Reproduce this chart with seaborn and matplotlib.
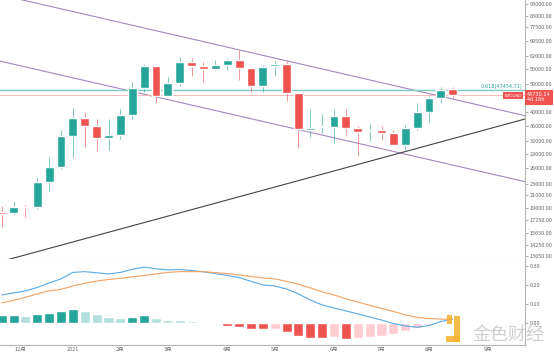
import numpy as np
import pandas as pd
import seaborn as sns
import matplotlib.pyplot as plt
from matplotlib.transforms import blended_transform_factory
from matplotlib.patches import Rectangle

# weekly BTCUSD candles, first bar = week of 2020-11-23
opens = [18400, 18300, 19200, 19100, 23200, 26100, 33200, 38400, 35900, 32800,
         33500, 39100, 48400, 57200, 45300, 50400, 59000, 57200, 56000, 58000,
         60000, 56700, 49100, 57200, 58200, 46400, 34800, 35700, 35800, 39000,
         35400, 34500, 35000, 34000, 31100, 35500, 40000, 44800, 47900]
highs = [19300, 19900, 19400, 24200, 28200, 34800, 41500, 40100, 37900, 38000,
         41000, 50500, 58500, 57500, 52700, 61600, 61000, 59000, 60000, 61200,
         65000, 57000, 57800, 59500, 59500, 46600, 41100, 39400, 41200, 41200,
         36000, 36500, 36000, 34800, 36200, 43000, 45300, 48800, 48800]
lows = [16400, 18000, 17700, 18900, 21700, 25800, 28100, 30500, 29600, 29800,
        32500, 38000, 46800, 43000, 45000, 49000, 53000, 50500, 55500, 55500,
        51300, 47000, 47000, 53200, 43700, 30400, 33000, 34000, 31500, 33400,
        28500, 32100, 32300, 31000, 29800, 34800, 37000, 43100, 44700]
closes = [18200, 19150, 19050, 23200, 26100, 33200, 38400, 35900, 32800, 33500,
          39100, 48400, 57200, 45300, 50400, 59000, 57200, 56000, 58000, 60000,
          56700, 49100, 56900, 58200, 46400, 35100, 35500, 35900, 39000, 35400,
          34300, 35000, 34000, 31100, 35500, 40000, 44800, 47700, 45730.14]

# MACD pane
macd_line = [0.146, 0.156, 0.167, 0.185, 0.209, 0.230, 0.264, 0.268, 0.262, 0.256,
             0.264, 0.280, 0.292, 0.283, 0.277, 0.279, 0.274, 0.267, 0.258, 0.248,
             0.237, 0.217, 0.198, 0.193, 0.177, 0.151, 0.119, 0.093, 0.077, 0.062,
             0.046, 0.030, 0.014, -0.004, -0.017, -0.024, -0.015, 0.006, 0.019]
signal_line = [0.104, 0.117, 0.133, 0.151, 0.167, 0.175, 0.193, 0.206, 0.219, 0.227,
               0.233, 0.241, 0.248, 0.256, 0.264, 0.268, 0.268, 0.268, 0.263, 0.258,
               0.251, 0.243, 0.235, 0.230, 0.217, 0.202, 0.183, 0.162, 0.146, 0.125,
               0.109, 0.091, 0.075, 0.059, 0.041, 0.028, 0.022, 0.019, 0.018]
hist = [0.040, 0.040, 0.035, 0.044, 0.049, 0.062, 0.072, 0.063, 0.046, 0.030,
        0.025, 0.030, 0.040, 0.023, 0.014, 0.013, 0.007, 0.002, -0.008, -0.016,
        -0.021, -0.033, -0.035, -0.033, -0.047, -0.071, -0.078, -0.080, -0.076, -0.084,
        -0.080, -0.075, -0.070, -0.058, -0.044, -0.028, -0.014, -0.007, 0.004]

# drawings: (bar index, price) pairs
upper_channel = [(1.79, 95900), (42.79, 40080)]
lower_channel = [(-0.14, 59640), (39.17, 25900)]
support_line = [(0.87, 12830), (42.79, 36780)]
fib_level = 47454.71
last_price = 45730.14

price_ticks = [93000, 85000, 77500, 69500, 62000, 56000, 50000, 40000, 36000, 32000,
               29000, 26000, 23000, 21000, 19000, 17250, 15650, 14250, 13050]
macd_ticks = [0.0, 0.1, 0.2, 0.3]
month_pos = [1.6, 6, 10, 14, 19, 23, 28, 32, 36, 41]
month_labels = ["12月", "2021", "2月", "3月", "4月", "5月", "6月", "7月", "8月", "9月"]

sns.set_style("white")
plt.rcParams['font.family'] = ['Noto Sans CJK SC', 'DejaVu Sans']

UP, DOWN = "#26a69a", "#ef5350"
AXC = "#b0b3b8"

df = pd.DataFrame({"o": opens, "h": highs, "l": lows, "c": closes})
df["i"] = np.arange(len(df))
df["col"] = np.where(df.c >= df.o, UP, DOWN)

fig = plt.figure(figsize=(5.54, 3.53), dpi=100)
ax = fig.add_axes([0, 0.2677, 0.9477, 0.7323])
ax2 = fig.add_axes([0, 0.0227, 0.9477, 0.245], sharex=ax)

# candles (wicks drawn a bit lighter, like the screenshot)
ax.vlines(df.i, df.l, df.h, color=df.col, lw=0.7, alpha=0.6, zorder=2)
ax.bar(df.i, (df.c - df.o).abs(), bottom=np.minimum(df.o, df.c), width=0.75,
       color=df.col, zorder=3)
ax.set_yscale("log")
ax.set_ylim(12830, 95950)
ax.set_xlim(-0.143, 44.09)

# trend lines, straight on the log scale
xs = np.array([-2, 46])
for (x0, p0), (x1, p1), c in [(*upper_channel, "#a488c0"), (*lower_channel, "#a488c0"),
                              (*support_line, "#444444")]:
    k = (np.log(p1) - np.log(p0)) / (x1 - x0)
    ax.plot(xs, np.exp(np.log(p0) + k * (xs - x0)), color=c, lw=0.8, zorder=1)

ax.axhline(fib_level, color="#7fcac2", lw=1.0, zorder=1)
ax.axhline(last_price, color="#f6b0b0", lw=0.6, zorder=1)

tr = blended_transform_factory(ax.transAxes, ax.transData)
ax.text(0.995, fib_level * 1.012, "0.618(47454.71)", transform=tr, ha="right", va="bottom",
        fontsize=3.6, color="#26a69a", family="DejaVu Sans")
ax.text(0.977, last_price * 0.995, "BTCUSD", transform=tr, ha="center", va="center",
        fontsize=3.2, color="white", family="DejaVu Sans",
        bbox=dict(boxstyle="square,pad=0.35", fc=DOWN, ec="none"))
ax.text(1.004, last_price * 0.985, "45730.14\n4d 16h", transform=tr, ha="left", va="center",
        fontsize=3.6, color="white", family="DejaVu Sans", linespacing=1.1, clip_on=False,
        bbox=dict(boxstyle="square,pad=0.45", fc=DOWN, ec="none"))

ax.yaxis.tick_right()
ax.set_yticks(price_ticks)
ax.set_yticklabels([f"{t:.2f}" for t in price_ticks])
ax.yaxis.set_minor_locator(plt.NullLocator())
ax.tick_params(axis="y", length=2, width=0.5, color="#888", labelsize=4, labelcolor="#666", pad=1.5)
ax.tick_params(axis="x", bottom=False, labelbottom=False)
for s in ["top", "left"]:
    ax.spines[s].set_visible(False)
for s in ["bottom", "right"]:
    ax.spines[s].set_color(AXC)
    ax.spines[s].set_linewidth(0.8)

# MACD histogram + lines
h = np.array(hist)
prev = np.r_[h[0] - 1, h[:-1]]
kind = np.where(h >= 0, np.where(h >= prev, "pos_up", "pos_dn"),
                np.where(h <= prev, "neg_dn", "neg_up"))
pal = {"pos_up": "#26a69a", "pos_dn": "#b2dfdb", "neg_dn": "#ef5350", "neg_up": "#ffcdd2"}
hdf = pd.DataFrame({"i": df.i, "v": h, "k": kind})
sns.barplot(data=hdf, x="i", y="v", hue="k", palette=pal, native_scale=True, dodge=False,
            legend=False, width=0.85, saturation=1, ax=ax2)
sns.lineplot(x=df.i, y=macd_line, color="#5aa9e6", lw=0.8, ax=ax2)
sns.lineplot(x=df.i, y=signal_line, color="#f3a263", lw=0.8, ax=ax2)

ax2.set_ylim(-0.117, 0.337)
ax2.set_xlim(-0.143, 44.09)
ax2.yaxis.tick_right()
ax2.set_yticks(macd_ticks)
ax2.set_yticklabels([f"{t:.2f}" for t in macd_ticks])
ax2.set_xticks(month_pos)
ax2.set_xticklabels(month_labels)
ax2.set_xlabel("")
ax2.set_ylabel("")
ax2.tick_params(axis="y", length=2, width=0.5, color="#888", labelsize=4, labelcolor="#666", pad=1.5)
ax2.tick_params(axis="x", length=0, labelsize=4, labelcolor="#666", pad=1.5)
for s in ["top", "left"]:
    ax2.spines[s].set_visible(False)
for s in ["bottom", "right"]:
    ax2.spines[s].set_color(AXC)
    ax2.spines[s].set_linewidth(0.8)

# watermark
fig.text(0.917, 0.052, "金色财经", ha="center", va="center", fontsize=13,
         color="#c9c9c9", alpha=0.9, family="Noto Sans CJK SC")
for x, y, w, hh in [(0.820, 0.030, 0.011, 0.075), (0.805, 0.030, 0.026, 0.018),
                    (0.806, 0.082, 0.009, 0.025)]:
    fig.patches.append(Rectangle((x, y), w, hh, transform=fig.transFigure,
                                 fc="#f4b12a", ec="none", alpha=0.85))

fig.savefig("out.png", dpi=100, facecolor="white")
